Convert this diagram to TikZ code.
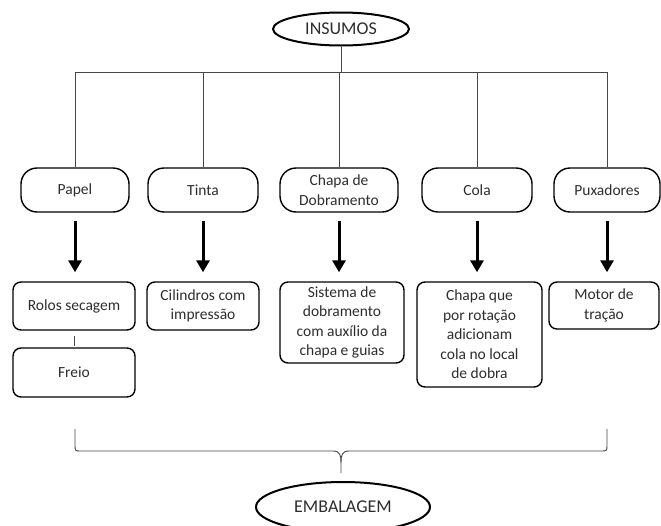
\documentclass[tikz,border=0pt]{standalone}
\usepackage{fontspec}
\setmainfont{Carlito}
\usetikzlibrary{positioning,arrows.meta,shapes.geometric}
\definecolor{linhacor}{RGB}{70,70,70}
\definecolor{textocor}{RGB}{45,45,45}

\begin{document}
\begin{tikzpicture}[x=1pt, y=-1pt,
    every node/.style={font=\fontsize{15.5}{19.5}\selectfont, text=textocor},
    elipse/.style={draw, ellipse, line width=2pt, inner sep=0pt, font=\fontsize{18}{20}\selectfont},
    insumo/.style={draw, line width=1.4pt, rounded corners=16pt, minimum height=44pt, inner sep=2pt, align=center},
    sistema/.style={draw, line width=1.4pt, rounded corners=8pt, inner sep=2pt, align=center},
    linha/.style={draw=linhacor, line width=0.9pt},
    seta/.style={-{Triangle[width=13pt,length=12pt]}, line width=3pt, shorten <=8pt, shorten >=9pt}]

    \useasboundingbox (0,0) rectangle (661,525);

    % Elipse de entrada
    \node[elipse, minimum width=136pt, minimum height=33pt] (insumos) at (341,29) {INSUMOS};
    \coordinate (barra) at (341,72);

    % Insumos
    \node[insumo, minimum width=108pt] (papel) at (75,190) {Papel};
    \node[insumo, minimum width=110pt] (tinta) at (203,190) {Tinta};
    \node[insumo, minimum width=118pt] (chapa) at (339,190) {Chapa de\\Dobramento};
    \node[insumo, minimum width=110pt] (cola) at (477,190) {Cola};
    \node[insumo, minimum width=106pt] (puxadores) at (607,190) {Puxadores};

    % Ligações a partir dos insumos
    \draw[linha] (insumos.south) -- (barra);
    \draw[linha] (papel.north) -- (papel.north |- barra) -- (puxadores.north |- barra) -- (puxadores.north);
    \foreach \n in {tinta,chapa,cola}
        \draw[linha] (\n.north) -- (\n.north |- barra);

    % Sistemas
    \node[sistema, minimum width=122pt, minimum height=48pt] (rolos) at (74,306) {Rolos secagem};
    \node[sistema, minimum width=122pt, minimum height=49pt] (freio) at (74,372.5) {Freio};
    \node[sistema, minimum width=112pt, minimum height=48pt] (cilindros) at (203,306) {Cilindros com\\impressão};
    \node[sistema, minimum width=124pt, minimum height=81pt] (dobra) at (342,322.5) {Sistema de\\dobramento\\com auxílio da\\chapa e guias};
    \node[sistema, minimum width=125pt, minimum height=105pt] (rotacao) at (479.5,334.5) {Chapa que\\por rotação\\adicionam\\cola no local\\de dobra};
    \node[sistema, minimum width=110pt, minimum height=47pt] (motor) at (604,305.5) {Motor de\\tração};

    % Setas
    \draw[seta] (papel.south) -- (papel.south |- rolos.north);
    \draw[seta] (tinta.south) -- (cilindros.north);
    \draw[seta] (chapa.south) -- (chapa.south |- dobra.north);
    \draw[seta] (cola.south) -- (cola.south |- rotacao.north);
    \draw[seta] (puxadores.south) -- (puxadores.south |- motor.north);
    \draw[linha, shorten <=5pt, shorten >=1pt] (rolos.south) -- (freio.north);

    % Chave e saída
    \coordinate (chaveE) at (75,429);
    \coordinate (chaveD) at (607,429);
    \coordinate (ponta) at (341,473);
    \draw[linha] (chaveE) -- (75,445) .. controls (75,451) .. (81,451) -- (333,451)
        .. controls (340,451) and (341,455) .. (341,463) -- (ponta);
    \draw[linha] (chaveD) -- (607,445) .. controls (607,451) .. (601,451) -- (349,451)
        .. controls (342,451) and (341,455) .. (341,463);
    \node[elipse, minimum width=174pt, minimum height=50pt] (embalagem) at (343,507) {EMBALAGEM};
\end{tikzpicture}
\end{document}
